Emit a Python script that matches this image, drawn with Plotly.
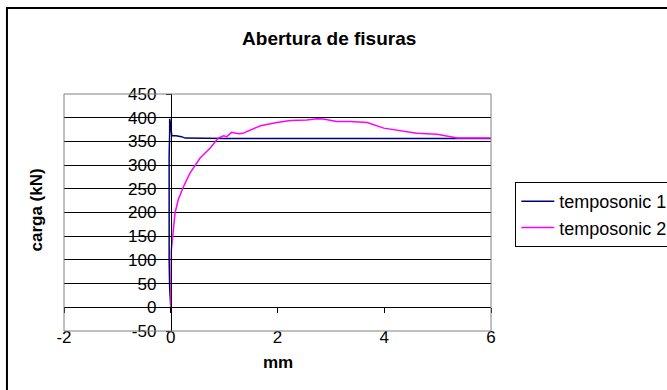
import plotly.graph_objects as go

# ---------------- data ----------------
t1_x = [0.00, -0.02, -0.03, -0.03, -0.04, -0.03, -0.03, -0.02, -0.02, -0.01, 0.02, 0.10, 0.20, 0.27, 1.0, 2.0, 3.0, 4.0, 5.0, 6.0]
t1_y = [0, 40, 100, 140, 180, 250, 320, 370, 398, 392, 362, 362, 360, 357, 356, 356, 356, 356, 356, 356]

t2_x = [0.00, 0.00, 0.01, 0.04, 0.06, 0.08, 0.14, 0.24, 0.36, 0.55, 0.74, 0.89, 0.99, 1.05, 1.14, 1.27, 1.35,
        1.68, 1.99, 2.24, 2.55, 2.74, 2.86, 3.11, 3.36, 3.68, 3.99, 4.36, 4.61, 4.99, 5.37, 6.00]
t2_y = [-5, 100, 120, 153, 178, 199, 227, 255, 283, 315, 336, 357, 362, 360, 369, 366, 367,
        383, 390, 394, 395, 398, 397, 392, 392, 390, 378, 371, 367, 365, 357, 357]

series_names = ["temposonic 1", "temposonic 2"]
series_colors = ["#000080", "#FF00FF"]

x_ticks = [-2, 0, 2, 4, 6]
x_tick_labels = ["-2", "0", "2", "4", "6"]
y_ticks = [-50, 0, 50, 100, 150, 200, 250, 300, 350, 400, 450]
y_tick_labels = ["-50", "0", "50", "100", "150", "200", "250", "300", "350", "400", "450"]

x_range = [-2, 6]
y_range = [-50, 450]

# ---------------- layout geometry (pixels) ----------------
W, H = 667, 390
L, R, T, B = 64, 490.7, 94, 331
ML, MR, MT, MB = L, W - R, T, H - B
PW, PH = R - L, B - T


def px(x):
    return (x - L) / PW


def py(y):
    return (B - y) / PH


FONT = "Liberation Sans, Arial, sans-serif"

fig = go.Figure()
fig.add_trace(go.Scatter(x=t1_x, y=t1_y, mode="lines", name=series_names[0],
                         line=dict(color=series_colors[0], width=1.5)))
fig.add_trace(go.Scatter(x=t2_x, y=t2_y, mode="lines", name=series_names[1],
                         line=dict(color=series_colors[1], width=1.5)))

x_pos_of_y0 = (0 - y_range[0]) / (y_range[1] - y_range[0])
y_pos_of_x0 = (0 - x_range[0]) / (x_range[1] - x_range[0])

fig.update_layout(
    width=W, height=H,
    margin=dict(l=ML, r=MR, t=MT, b=MB, autoexpand=False),
    paper_bgcolor="white", plot_bgcolor="white",
    font=dict(family=FONT, color="black", size=17),
    title=dict(text="<b>Abertura de fisuras</b>", xref="paper", x=px(329), xanchor="center",
               yref="container", y=1 - 38 / H, yanchor="middle",
               font=dict(size=19, family=FONT, color="black")),
    xaxis=dict(range=x_range, tickmode="array", tickvals=x_ticks, ticktext=x_tick_labels,
               anchor="free", position=x_pos_of_y0,
               showgrid=False, zeroline=False, showline=True, linecolor="black", linewidth=1,
               ticks="outside", ticklen=5, tickcolor="black", ticklabelstandoff=9,
               tickfont=dict(size=17, family=FONT, color="black")),
    yaxis=dict(range=y_range, tickmode="array", tickvals=y_ticks, ticktext=y_tick_labels,
               anchor="free", position=y_pos_of_x0,
               showgrid=True, gridcolor="black", gridwidth=1, zeroline=False,
               showline=True, linecolor="black", linewidth=1,
               ticks="outside", ticklen=5, tickcolor="black", ticklabelstandoff=6,
               tickfont=dict(size=17, family=FONT, color="black")),
    legend=dict(x=px(515), y=py(182), xanchor="left", yanchor="top",
                bordercolor="black", borderwidth=1, bgcolor="white", itemwidth=33,
                font=dict(size=18, family=FONT, color="black")),
    showlegend=True,
)

# plot-area border (gray) and outer chart border (black)
fig.add_shape(type="rect", xref="paper", yref="paper", x0=0, y0=0, x1=1, y1=1,
              line=dict(color="#808080", width=1), layer="above")
fig.add_shape(type="rect", xref="paper", yref="paper", x0=px(7), y0=py(420), x1=px(720), y1=py(8),
              line=dict(color="black", width=2), layer="above")

# axis titles
fig.add_annotation(text="<b>carga (kN)</b>", xref="paper", yref="paper", x=px(36.5), y=py(210),
                   textangle=-90, showarrow=False, font=dict(size=17, family=FONT, color="black"),
                   xanchor="center", yanchor="middle")
fig.add_annotation(text="<b>mm</b>", xref="paper", yref="paper", x=px(278), y=py(362),
                   showarrow=False, font=dict(size=17, family=FONT, color="black"),
                   xanchor="center", yanchor="middle")

fig.write_html("out.html", config={"displayModeBar": False},
               post_script="document.body.style.margin='0';document.body.style.padding='0';")
